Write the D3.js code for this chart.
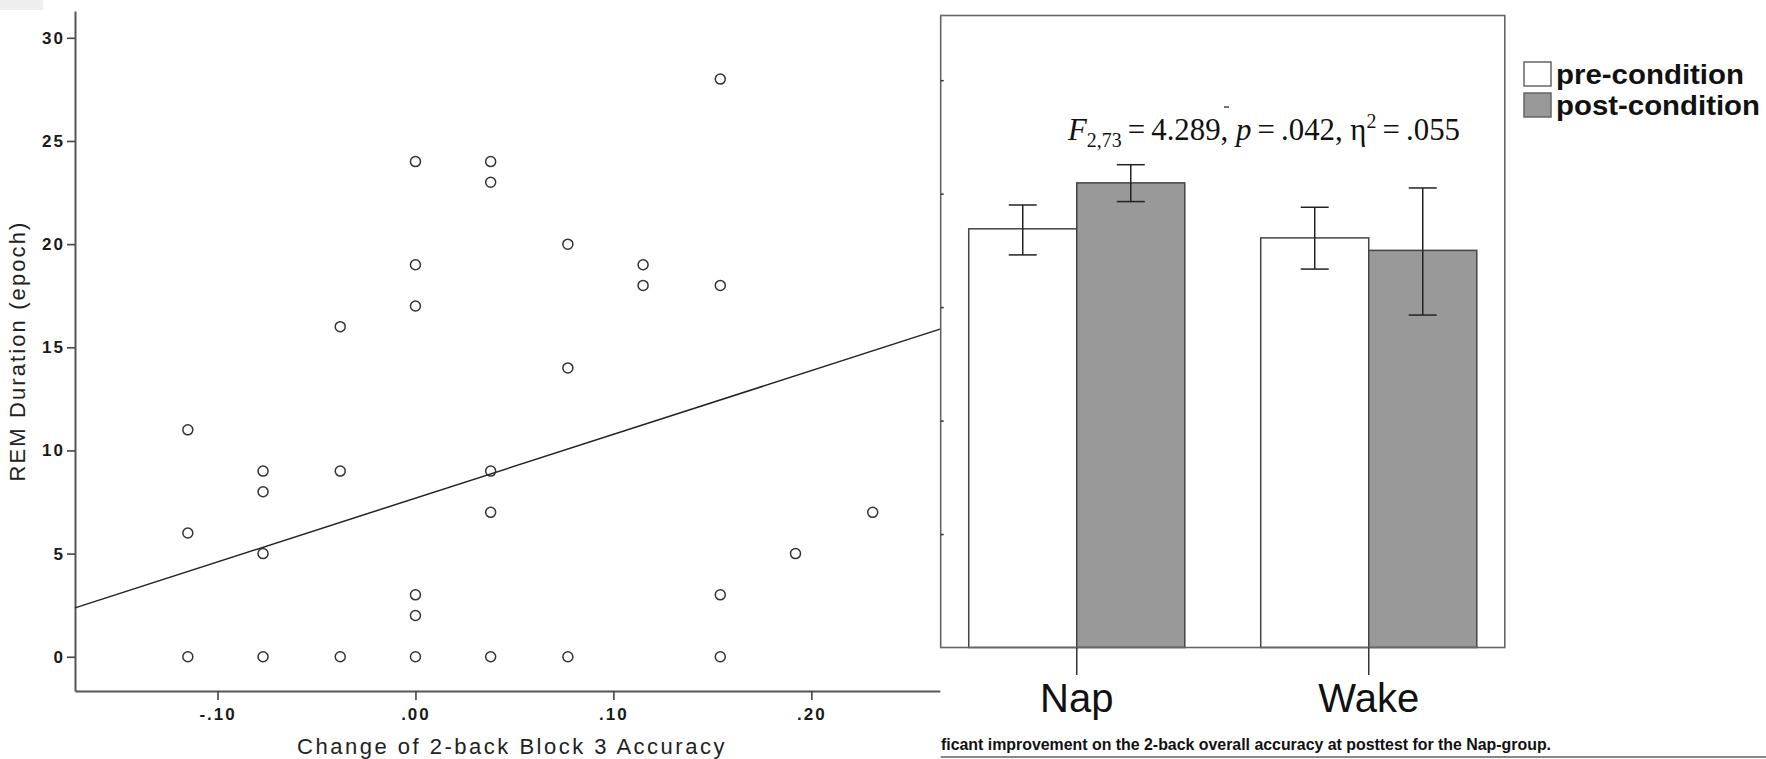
<!DOCTYPE html>
<html>
<head>
<meta charset="utf-8">
<script src="https://cdn.jsdelivr.net/npm/d3@7"></script>
<style>
body { margin: 0; background: #fff; }
svg { display: block; font-family: "Liberation Sans", Arial, sans-serif; }
</style>
</head>
<body>
<div id="chart"></div>
<script>
// Left panel: REM duration vs change of 2-back block 3 accuracy
const pointX = [
    -0.115, -0.115, -0.115,
    -0.077, -0.077, -0.077, -0.077,
    -0.038, -0.038, -0.038,
    0, 0, 0, 0, 0, 0,
    0.038, 0.038, 0.038, 0.038, 0.038,
    0.077, 0.077, 0.077,
    0.115, 0.115,
    0.154, 0.154, 0.154, 0.154,
    0.192,
    0.231
];
const pointY = [
    11, 6, 0,
    9, 8, 5, 0,
    16, 9, 0,
    24, 19, 17, 3, 2, 0,
    24, 23, 9, 7, 0,
    20, 14, 0,
    19, 18,
    28, 18, 3, 0,
    5,
    7
];
const xTickValues = [-0.1, 0, 0.1, 0.2];
const xTickLabels = ["-.10", ".00", ".10", ".20"];
const yTickValues = [0, 5, 10, 15, 20, 25, 30];
// fit line end points as drawn
const fitX = [-0.172, 0.265];
const fitY = [2.37, 15.88];

// Right panel: 2-back overall accuracy, pre vs post
const groups = ["Nap", "Wake"];
const conditions = ["pre-condition", "post-condition"];
const preMean = [0.738, 0.722];
const postMean = [0.819, 0.700];
const preLow = [0.692, 0.667];
const preHigh = [0.780, 0.776];
const postLow = [0.786, 0.586];
const postHigh = [0.851, 0.810];
const barTicks = [0.2, 0.4, 0.6, 0.8, 1.0];

const width = 1766;
const height = 759;

const svg = d3.select("#chart").append("svg")
    .attr("width", width)
    .attr("height", height);

// faint gray corner block
svg.append("rect").attr("x", 0).attr("y", 0).attr("width", 43).attr("height", 10).attr("fill", "#eeeeee");

// ---------- scatter ----------
const x = d3.scaleLinear().domain([-0.172, 0.265]).range([75, 940]);
const y = d3.scaleLinear().domain([-1.66, 31.3]).range([691, 11]);

const scatter = svg.append("g").attr("class", "scatter");

const yAxis = scatter.append("g")
    .attr("transform", `translate(${x.range()[0]},0)`)
    .call(d3.axisLeft(y).tickValues(yTickValues).tickSize(8).tickPadding(2).tickSizeOuter(0));

const xAxis = scatter.append("g")
    .attr("transform", `translate(0,${y.range()[0]})`)
    .call(d3.axisBottom(x).tickValues(xTickValues).tickSize(9).tickPadding(8).tickSizeOuter(0)
        .tickFormat((d, i) => xTickLabels[i]));

[xAxis, yAxis].forEach(a => {
    a.select(".domain").attr("stroke", "#555").attr("stroke-width", 2);
    a.selectAll(".tick line").attr("stroke", "#444").attr("stroke-width", 1.6);
    a.selectAll(".tick text")
        .attr("fill", "#1a1a1a")
        .style("font-size", "17px")
        .style("font-weight", "bold")
        .style("letter-spacing", "2px")
        .style("font-family", "'Liberation Sans', Arial, sans-serif");
});

scatter.append("path")
    .datum(fitX.map((d, i) => [d, fitY[i]]))
    .attr("d", d3.line().x(d => x(d[0])).y(d => y(d[1])))
    .attr("fill", "none")
    .attr("stroke", "#222")
    .attr("stroke-width", 1.5);

scatter.selectAll("circle.pt")
    .data(pointX.map((d, i) => ({ x: d, y: pointY[i] })))
    .join("circle")
    .attr("class", "pt")
    .attr("cx", d => x(d.x))
    .attr("cy", d => y(d.y))
    .attr("r", 5)
    .attr("fill", "none")
    .attr("stroke", "#333")
    .attr("stroke-width", 1.5);

scatter.append("text")
    .attr("transform", `translate(25,${(y.range()[0] + y.range()[1]) / 2}) rotate(-90)`)
    .attr("text-anchor", "middle")
    .attr("fill", "#222")
    .style("font-size", "22px")
    .style("letter-spacing", "2.1px")
    .text("REM Duration (epoch)");

scatter.append("text")
    .attr("x", 512)
    .attr("y", 754)
    .attr("text-anchor", "middle")
    .attr("fill", "#222")
    .style("font-size", "22px")
    .style("letter-spacing", "2.5px")
    .text("Change of 2-back Block 3 Accuracy");

// ---------- bar panel (pasted over the scatter) ----------
const frameL = 940.7, frameR = 1504.8, frameT = 15.5, frameB = 647.5;

svg.append("rect")
    .attr("x", frameL).attr("y", 0)
    .attr("width", width - frameL).attr("height", height)
    .attr("fill", "#fff");

const by = d3.scaleLinear().domain([0, 1.114]).range([frameB, frameT]);
const gx = d3.scaleBand().domain(groups).range([frameL, frameR]).paddingInner(0.26).paddingOuter(0.096);
const sub = d3.scaleBand().domain(conditions).range([0, gx.bandwidth()]);

const barData = [];
groups.forEach((g, i) => {
    barData.push({ g, c: conditions[0], v: preMean[i], lo: preLow[i], hi: preHigh[i] });
    barData.push({ g, c: conditions[1], v: postMean[i], lo: postLow[i], hi: postHigh[i] });
});
const fillFor = { "pre-condition": "#ffffff", "post-condition": "#999999" };

const bars = svg.append("g").attr("class", "bars");

bars.selectAll("rect.bar")
    .data(barData)
    .join("rect")
    .attr("class", "bar")
    .attr("x", d => gx(d.g) + sub(d.c))
    .attr("y", d => by(d.v))
    .attr("width", sub.bandwidth())
    .attr("height", d => by(0) - by(d.v))
    .attr("fill", d => fillFor[d.c])
    .attr("stroke", "#444")
    .attr("stroke-width", 1.5);

const capW = 28;
const err = bars.selectAll("g.err")
    .data(barData)
    .join("g")
    .attr("class", "err")
    .attr("transform", d => `translate(${gx(d.g) + sub(d.c) + sub.bandwidth() / 2},0)`);
err.append("line").attr("x1", 0).attr("x2", 0).attr("y1", d => by(d.hi)).attr("y2", d => by(d.lo));
err.append("line").attr("x1", -capW / 2).attr("x2", capW / 2).attr("y1", d => by(d.hi)).attr("y2", d => by(d.hi));
err.append("line").attr("x1", -capW / 2).attr("x2", capW / 2).attr("y1", d => by(d.lo)).attr("y2", d => by(d.lo));
err.selectAll("line").attr("stroke", "#222").attr("stroke-width", 1.5);

// frame
svg.append("rect")
    .attr("x", frameL).attr("y", frameT)
    .attr("width", frameR - frameL).attr("height", frameB - frameT)
    .attr("fill", "none")
    .attr("stroke", "#666")
    .attr("stroke-width", 1.6);

// faint ticks on the frame's left edge
const leftTicks = svg.append("g")
    .attr("transform", `translate(${frameL},0)`)
    .call(d3.axisLeft(by).tickValues(barTicks).tickSize(-3).tickFormat(""));
leftTicks.select(".domain").remove();
leftTicks.selectAll(".tick line").attr("stroke", "#333").attr("stroke-width", 1.5);

// category ticks and labels
const cats = svg.append("g").selectAll("g")
    .data(groups)
    .join("g")
    .attr("transform", d => `translate(${gx(d) + gx.bandwidth() / 2},0)`);
cats.append("line")
    .attr("y1", frameB).attr("y2", 675)
    .attr("stroke", "#333").attr("stroke-width", 1.5);
cats.append("text")
    .attr("y", 712)
    .attr("text-anchor", "middle")
    .attr("fill", "#111")
    .style("font-size", "40px")
    .text(d => d);

// statistics annotation
const stat = svg.append("text")
    .attr("x", 1068)
    .attr("y", 140)
    .attr("fill", "#111")
    .attr("textLength", 392)
    .attr("lengthAdjust", "spacingAndGlyphs")
    .style("font-family", "'Liberation Serif', 'Times New Roman', serif")
    .style("font-size", "31px");
stat.append("tspan").style("font-style", "italic").text("F");
stat.append("tspan").attr("dy", 7).style("font-size", "20px").text("2,73");
stat.append("tspan").attr("dy", -7).text("\u2009=\u20094.289, ");
stat.append("tspan").style("font-style", "italic").text("p");
stat.append("tspan").text("\u2009=\u2009.042, η");
stat.append("tspan").attr("dy", -12).style("font-size", "20px").text("2");
stat.append("tspan").attr("dy", 12).text("\u2009=\u2009.055");

svg.append("line")
    .attr("x1", 1224).attr("x2", 1229).attr("y1", 107).attr("y2", 107)
    .attr("stroke", "#444").attr("stroke-width", 1.5);

// legend
const legend = svg.append("g").attr("transform", "translate(1524,0)");
const legendTop = [62, 93];
const legendTextLen = [188, 204];
conditions.forEach((c, i) => {
    legend.append("rect")
        .attr("x", 0).attr("y", legendTop[i])
        .attr("width", 27).attr("height", 24)
        .attr("fill", fillFor[c])
        .attr("stroke", "#666").attr("stroke-width", 1.5);
    legend.append("text")
        .attr("x", 32).attr("y", legendTop[i] + 22)
        .attr("fill", "#111")
        .attr("textLength", legendTextLen[i])
        .attr("lengthAdjust", "spacingAndGlyphs")
        .style("font-size", "27px")
        .style("font-weight", "bold")
        .text(c);
});

// caption fragment and rule
svg.append("text")
    .attr("x", 941)
    .attr("y", 750)
    .attr("fill", "#111")
    .attr("textLength", 610)
    .attr("lengthAdjust", "spacingAndGlyphs")
    .style("font-size", "16px")
    .style("font-weight", "bold")
    .text("ficant improvement on the 2-back overall accuracy at posttest for the Nap-group.");

svg.append("line")
    .attr("x1", frameL).attr("x2", width)
    .attr("y1", 757).attr("y2", 757)
    .attr("stroke", "#888").attr("stroke-width", 2);
</script>
</body>
</html>
